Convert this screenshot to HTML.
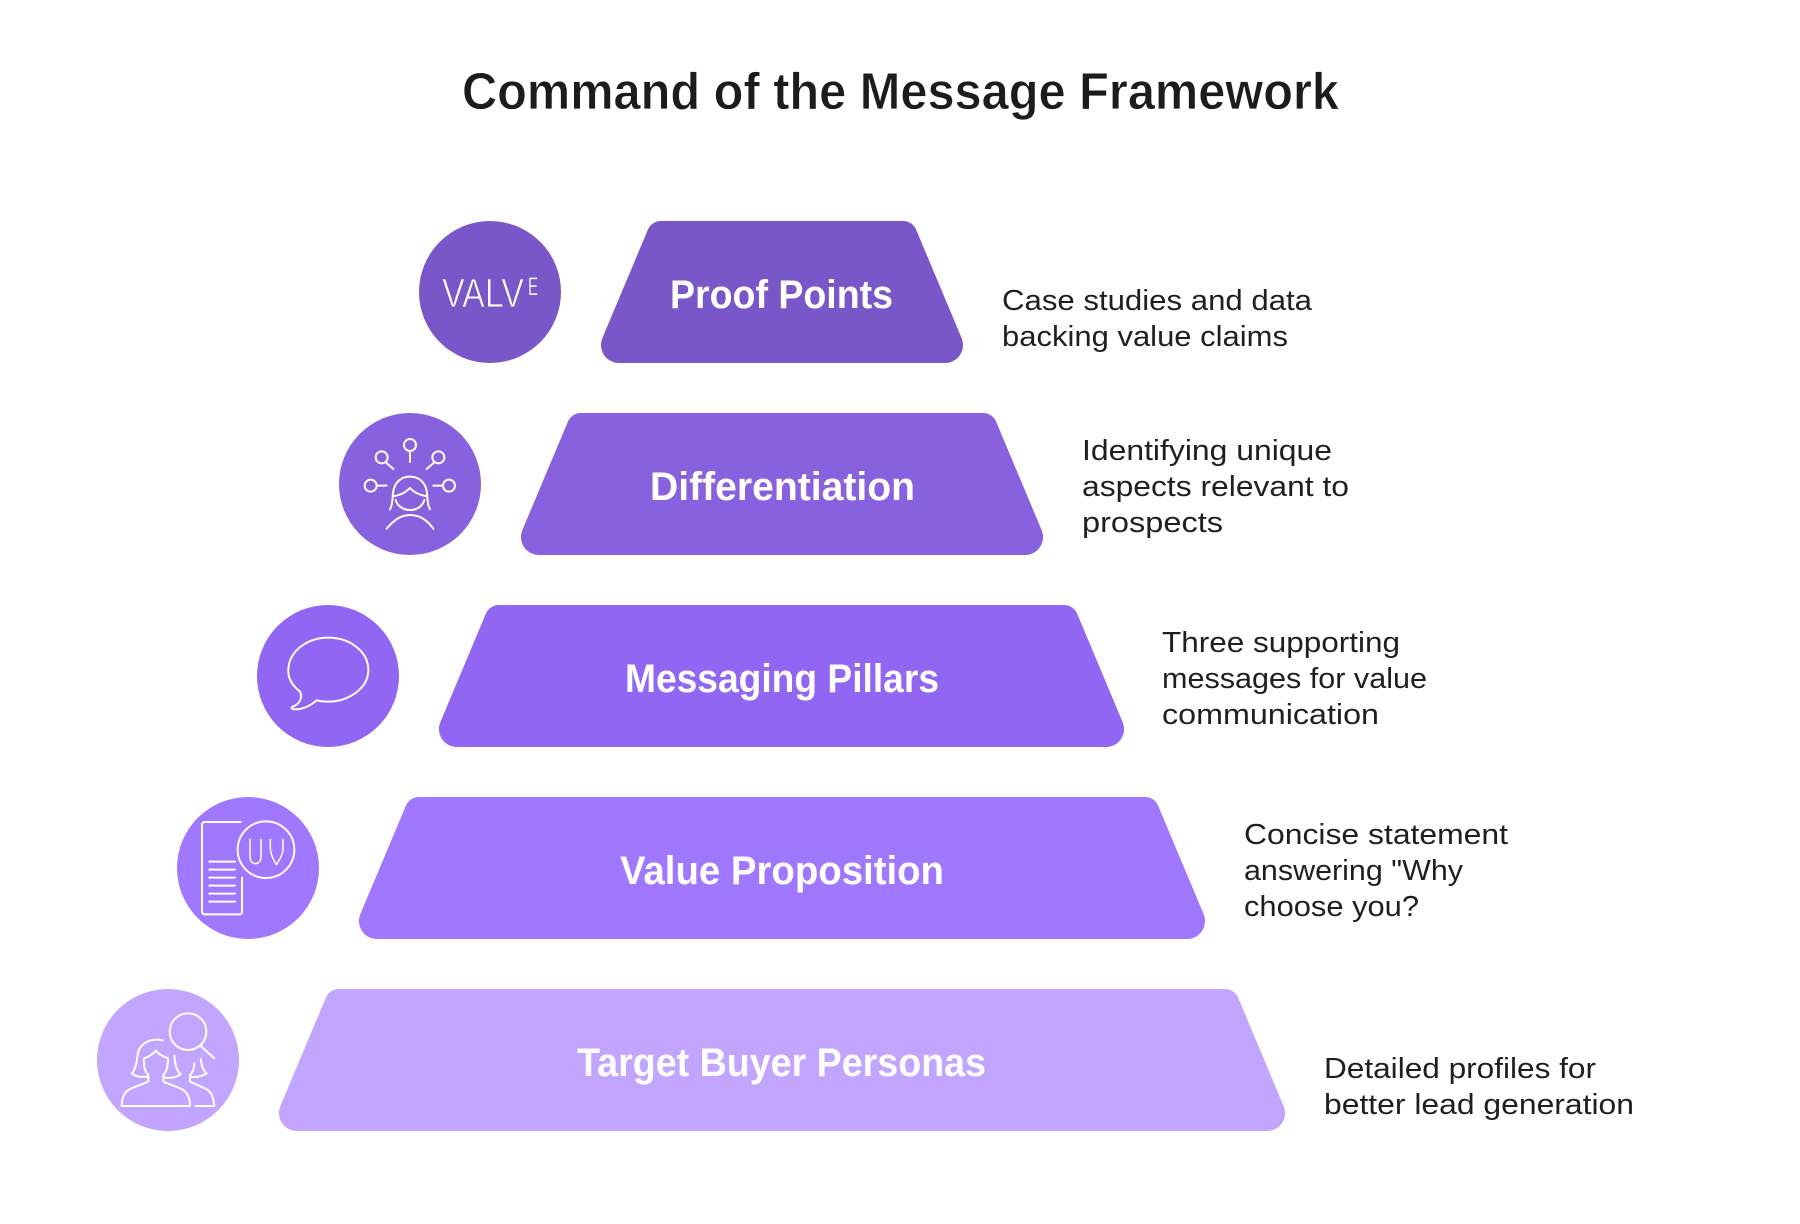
<!DOCTYPE html>
<html lang="en">
<head>
<meta charset="utf-8">
<title>Command of the Message Framework</title>
<style>
html,body{margin:0;padding:0;background:#fff;}
svg{display:block;}
text{font-family:"Liberation Sans",sans-serif;}
.d{font-size:28.5px;fill:#1f1f1f;}
.l{font-size:40px;font-weight:700;fill:#fff;}
.i{fill:none;stroke:#fff;stroke-width:6;stroke-linecap:round;stroke-linejoin:round;}
</style>
</head>
<body>
<svg width="1800" height="1224" viewBox="0 0 1800 1224" xmlns="http://www.w3.org/2000/svg">
<rect width="1800" height="1224" fill="#fff"/>
<text x="462" y="109" font-size="52" font-weight="700" fill="#1c1c1c" stroke="#fff" stroke-width=".7" textLength="877" lengthAdjust="spacingAndGlyphs">Command of the Message Framework</text>

<circle cx="490" cy="292" r="71" fill="#7957c8"/>
<path fill="#7957c8" d="M660.8,221H903.2A14,14 0 0 1 916.1,229.6L961.6,338A18,18 0 0 1 945,363H619A18,18 0 0 1 602.4,338L647.9,229.6A14,14 0 0 1 660.8,221Z"/>
<circle cx="410" cy="484" r="71" fill="#8861de"/>
<path fill="#8861de" d="M580.8,413H983.2A14,14 0 0 1 996.1,421.6L1041.6,530A18,18 0 0 1 1025,555H539A18,18 0 0 1 522.4,530L567.9,421.6A14,14 0 0 1 580.8,413Z"/>
<circle cx="328" cy="676" r="71" fill="#9166f2"/>
<path fill="#9166f2" d="M498.8,605H1064.2A14,14 0 0 1 1077.1,613.6L1122.6,722A18,18 0 0 1 1106,747H457A18,18 0 0 1 440.4,722L485.9,613.6A14,14 0 0 1 498.8,605Z"/>
<circle cx="248" cy="868" r="71" fill="#a077ff"/>
<path fill="#a077ff" d="M418.8,797H1145.2A14,14 0 0 1 1158.1,805.6L1203.6,914A18,18 0 0 1 1187,939H377A18,18 0 0 1 360.4,914L405.9,805.6A14,14 0 0 1 418.8,797Z"/>
<circle cx="168" cy="1060" r="71" fill="#c1a5ff"/>
<path fill="#c1a5ff" d="M338.8,989H1225.2A14,14 0 0 1 1238.1,997.6L1283.6,1106A18,18 0 0 1 1267,1131H297A18,18 0 0 1 280.4,1106L325.9,997.6A14,14 0 0 1 338.8,989Z"/>

<text class="l" x="670" y="308" textLength="223" lengthAdjust="spacingAndGlyphs">Proof Points</text>
<text class="l" x="650" y="500" textLength="265" lengthAdjust="spacingAndGlyphs">Differentiation</text>
<text class="l" x="625" y="692" textLength="314" lengthAdjust="spacingAndGlyphs">Messaging Pillars</text>
<text class="l" x="620" y="884" textLength="324" lengthAdjust="spacingAndGlyphs">Value Proposition</text>
<text class="l" x="577" y="1076" textLength="409" lengthAdjust="spacingAndGlyphs">Target Buyer Personas</text>

<text class="d" x="1002" y="310" textLength="310" lengthAdjust="spacingAndGlyphs">Case studies and data</text>
<text class="d" x="1002" y="346" textLength="286" lengthAdjust="spacingAndGlyphs">backing value claims</text>
<text class="d" x="1082" y="460" textLength="250" lengthAdjust="spacingAndGlyphs">Identifying unique</text>
<text class="d" x="1082" y="496" textLength="267" lengthAdjust="spacingAndGlyphs">aspects relevant to</text>
<text class="d" x="1082" y="532" textLength="141" lengthAdjust="spacingAndGlyphs">prospects</text>
<text class="d" x="1162" y="652" textLength="238" lengthAdjust="spacingAndGlyphs">Three supporting</text>
<text class="d" x="1162" y="688" textLength="265" lengthAdjust="spacingAndGlyphs">messages for value</text>
<text class="d" x="1162" y="724" textLength="217" lengthAdjust="spacingAndGlyphs">communication</text>
<text class="d" x="1244" y="844" textLength="264" lengthAdjust="spacingAndGlyphs">Concise statement</text>
<text class="d" x="1244" y="880" textLength="219" lengthAdjust="spacingAndGlyphs">answering "Why</text>
<text class="d" x="1244" y="916" textLength="175" lengthAdjust="spacingAndGlyphs">choose you?</text>
<text class="d" x="1324" y="1078" textLength="272" lengthAdjust="spacingAndGlyphs">Detailed profiles for</text>
<text class="d" x="1324" y="1114" textLength="310" lengthAdjust="spacingAndGlyphs">better lead generation</text>

<!-- Row 1 icon -->
<text x="442" y="307" font-size="41" fill="#fff" stroke="#7957c8" stroke-width=".9" textLength="82" lengthAdjust="spacingAndGlyphs">VALV</text>
<text x="528" y="295" font-size="25" fill="#fff" textLength="10" lengthAdjust="spacingAndGlyphs" stroke="#7957c8" stroke-width=".3">E</text>

<!-- Row 2 icon -->
<g transform="translate(320,400) scale(.33333)" class="i">
<circle cx="270" cy="135" r="18"/><path d="M270,153V186"/>
<circle cx="185" cy="172" r="18"/><path d="M198,188L220,207"/>
<circle cx="355" cy="172" r="18"/><path d="M342,188L320,207"/>
<circle cx="152" cy="257" r="18"/><path d="M170,257H200"/>
<circle cx="387" cy="257" r="18"/><path d="M369,257H340"/>
<path d="M210,328C222,305 215,285 222,265C230,240 250,230 270,230C295,230 312,245 318,265C325,285 318,305 330,328"/>
<path d="M222,288C245,285 258,275 270,264C280,275 295,285 318,288"/>
<path d="M227,300C232,318 250,330 270,330C292,330 308,318 313,300"/>
<path d="M200,386C225,355 250,345 270,345C295,345 318,355 340,386"/>
</g>

<!-- Row 3 icon -->
<g transform="translate(240,590) scale(.33333)" class="i">
<path d="M180,305C155,285 143,262 145,238C148,180 205,143 265,143C330,143 385,185 385,240C385,295 325,335 265,335C250,335 240,333 230,331C210,348 190,358 165,358C155,358 152,353 158,350C175,345 190,325 180,305Z"/>
</g>

<!-- Row 4 icon -->
<g transform="translate(160,780) scale(.33333)" class="i">
<path d="M242,126H135Q126,126 126,135V393Q126,403 135,403H238Q246,403 246,395V292"/>
<path d="M148,245H225M148,269H225M148,293H225M148,317H225M148,341H225M148,365H225"/>
<circle cx="318" cy="209" r="85"/>
<path stroke-width="4.5" d="M270,178V230C270,258 303,258 303,230V178"/>
<path stroke-width="4.5" d="M331,178V205C331,225 343,243 349,254C356,243 369,225 369,205V178"/>
</g>

<!-- Row 5 icon -->
<g transform="translate(80,960) scale(.33333)" class="i">
<circle cx="324" cy="215" r="55"/><path d="M362,258L403,295"/>
<path d="M125,438H330C330,410 320,395 305,387L250,365V345C260,335 264,320 264,295C250,290 235,282 228,272C220,280 210,290 192,295C190,320 195,335 205,345V365L150,387C135,395 125,410 125,438Z"/>
<path d="M248,241C205,232 175,255 172,290C170,310 165,330 155,340C165,350 185,352 205,350"/>
<path d="M283,287C285,310 288,330 302,343C290,352 270,356 250,352"/>
<path d="M347,438H403C400,410 395,395 375,385L330,365V345C340,335 343,325 343,310"/>
<path d="M330,350C345,353 365,350 380,340C368,330 365,315 362,297"/>
</g>
</svg>
</body>
</html>
